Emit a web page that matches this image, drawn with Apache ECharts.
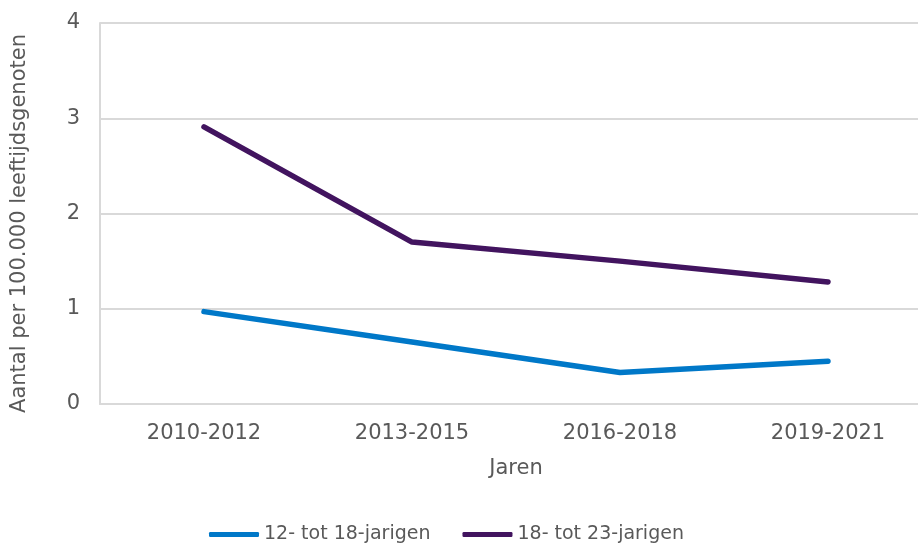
<!DOCTYPE html>
<html>
<head>
<meta charset="utf-8">
<script src="https://cdn.jsdelivr.net/npm/echarts@6/dist/echarts.min.js"></script>
<style>
  html, body { margin: 0; padding: 0; background: #fff; }
  #chart { width: 918px; height: 544px; }
</style>
</head>
<body>
<div id="chart"></div>
<script>
var periods = ["2010-2012", "2013-2015", "2016-2018", "2019-2021"];
var youngValues = [0.97, 0.65, 0.33, 0.45];   // 12- tot 18-jarigen
var olderValues = [2.91, 1.70, 1.50, 1.28];   // 18- tot 23-jarigen
var seriesNames = ["12- tot 18-jarigen", "18- tot 23-jarigen"];

var chart = echarts.init(document.getElementById("chart"));
var font = "Verdana, 'DejaVu Sans', sans-serif";
var textColor = "#595959";

var option = {
  animation: false,
  textStyle: { fontFamily: font },
  grid: { left: 100, right: -14, top: 23, bottom: 140, outerBoundsMode: "none", containLabel: false },
  legend: {
    top: 525,
    left: 209,
    padding: 0,
    itemWidth: 50,
    itemHeight: 5,
    itemGap: 32,
    icon: "roundRect",
    textStyle: { color: textColor, fontSize: 19, fontFamily: font },
    data: seriesNames
  },
  xAxis: {
    type: "category",
    data: periods,
    name: "Jaren",
    nameLocation: "middle",
    nameGap: 54,
    nameTextStyle: { color: textColor, fontSize: 21, fontFamily: font },
    axisLine: { lineStyle: { color: "#d9d9d9", width: 2 } },
    axisTick: { show: false },
    axisLabel: { color: textColor, fontSize: 21, margin: 19, fontFamily: font }
  },
  yAxis: {
    type: "value",
    min: 0,
    max: 4,
    interval: 1,
    name: "Aantal per 100.000 leeftijdsgenoten",
    nameLocation: "middle",
    nameGap: 70,
    nameTextStyle: { color: textColor, fontSize: 21, fontFamily: font, padding: [0, 20, 0, 0] },
    axisLine: { show: true, lineStyle: { color: "#d9d9d9", width: 2 } },
    axisTick: { show: false },
    splitLine: { lineStyle: { color: "#d9d9d9", width: 2 } },
    axisLabel: { color: textColor, fontSize: 21, margin: 20, fontFamily: font }
  },
  series: [
    {
      name: seriesNames[0],
      type: "line",
      data: youngValues,
      symbol: "none",
      color: "#0078c8",
      lineStyle: { width: 5.5, cap: "round" }
    },
    {
      name: seriesNames[1],
      type: "line",
      data: olderValues,
      symbol: "none",
      color: "#42145f",
      lineStyle: { width: 5.5, cap: "round" }
    }
  ]
};

chart.setOption(option);
window.addEventListener("resize", chart.resize);
</script>
</body>
</html>
